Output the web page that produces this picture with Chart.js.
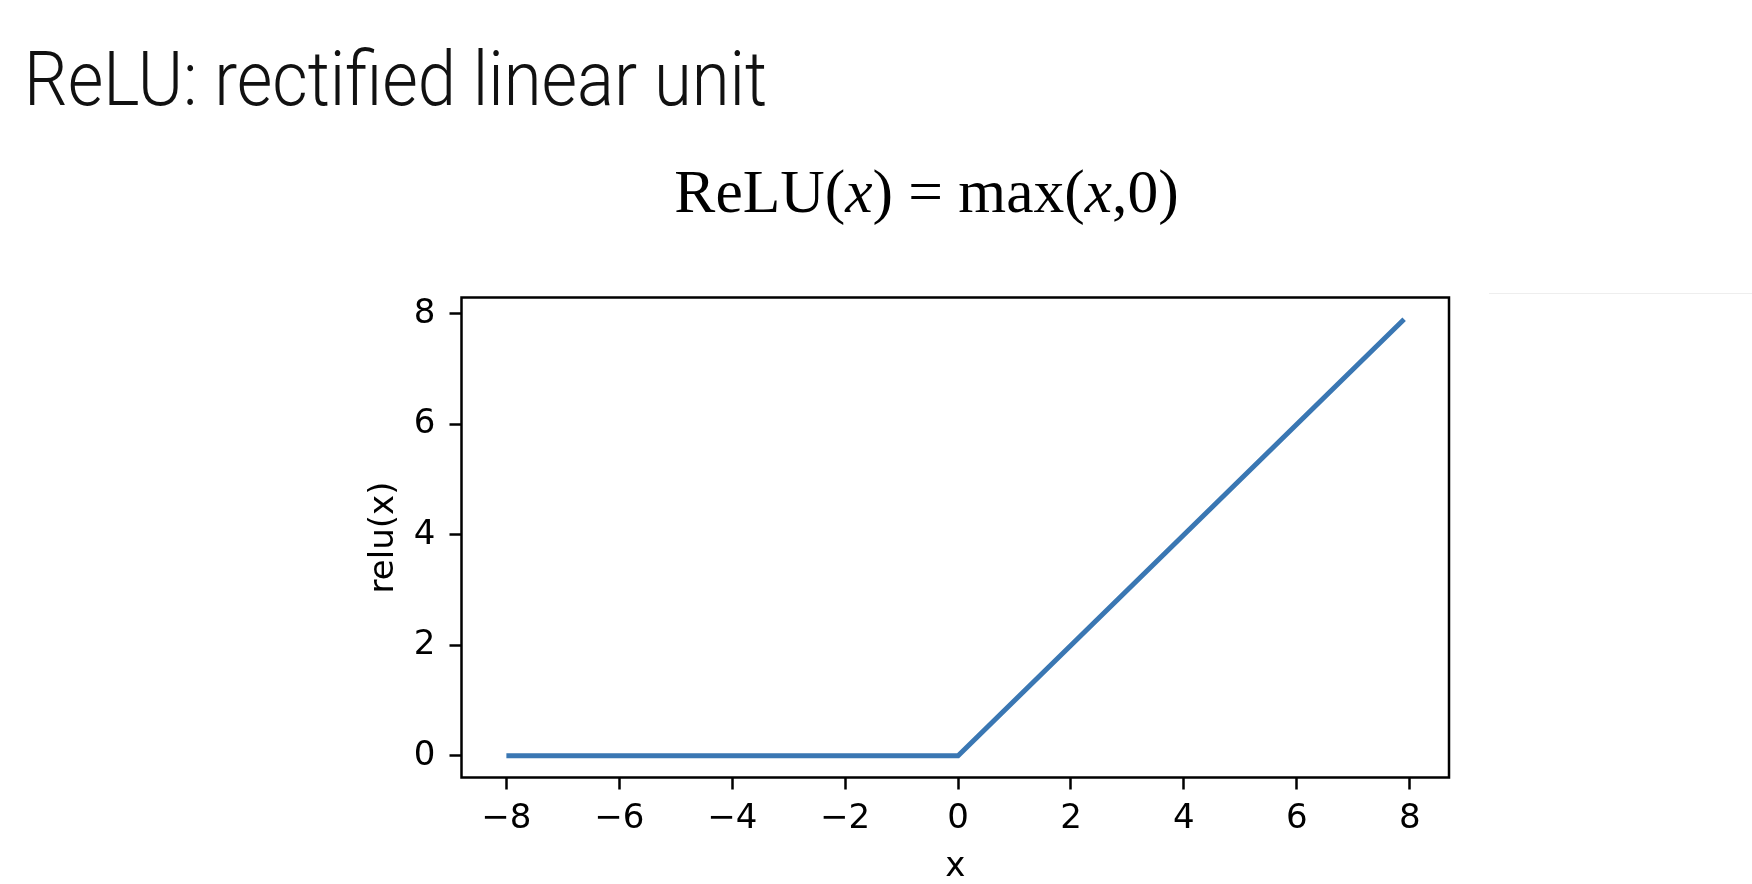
<!DOCTYPE html>
<html>
<head>
<meta charset="utf-8">
<script src="https://cdn.jsdelivr.net/npm/chart.js"></script>
<style>
  html, body { margin: 0; padding: 0; background: #fff; }
  body { width: 1752px; height: 884px; position: relative; overflow: hidden; }
  #title {
    position: absolute; left: 24px; top: 41px;
    font-family: Roboto, "Open Sans", sans-serif; font-weight: 300;
    font-size: 76px; color: #111; white-space: nowrap; line-height: 1;
    transform: scaleX(0.905); transform-origin: 0 0;
  }
  #formula {
    position: absolute; left: 0; width: 1853px; top: 161px; text-align: center;
    font-family: "Liberation Serif", "DejaVu Serif", serif; font-size: 61.5px;
    color: #000; white-space: nowrap; line-height: 1;
  }
  #formula i { font-style: italic; }
  #rule { position: absolute; left: 1489px; top: 293px; width: 263px; height: 1px; background: #eee; }
  #chart { position: absolute; left: 0; top: 0; }
</style>
</head>
<body>
<div id="title">ReLU: rectified linear unit</div>
<div id="formula">ReLU(<i>x</i>) = max(<i>x</i>,0)</div>
<div id="rule"></div>
<canvas id="chart" width="1752" height="884"></canvas>
<script>
// data
const xValues = [-8, 0, 7.9];
const reluValues = [0, 0, 7.9];
const xTicks = [-8, -6, -4, -2, 0, 2, 4, 6, 8];
const yTicks = [0, 2, 4, 6, 8];

const points = xValues.map((x, i) => ({ x: x, y: reluValues[i] }));

const fmt = (v) => (v < 0 ? '\u2212' + Math.abs(v) : String(v));
const tickFont = { family: 'DejaVu Sans', size: 34 };

// matplotlib style box round the axes
const frame = {
  id: 'frame',
  afterDraw(chart) {
    const a = chart.chartArea;
    const ctx = chart.ctx;
    ctx.save();
    ctx.strokeStyle = '#000';
    ctx.lineWidth = 2.5;
    ctx.strokeRect(a.left, a.top, a.right - a.left, a.bottom - a.top);
    ctx.restore();
  }
};

new Chart(document.getElementById('chart'), {
  type: 'line',
  data: {
    datasets: [{
      label: 'relu',
      data: points,
      borderColor: '#3a77b3',
      borderWidth: 5,
      pointRadius: 0,
      tension: 0,
      fill: false
    }]
  },
  options: {
    responsive: false,
    animation: false,
    layout: { padding: { left: 300, right: 303, top: 297.5, bottom: 0 } },
    plugins: { legend: { display: false }, tooltip: { enabled: false } },
    scales: {
      x: {
        type: 'linear',
        min: -8.795,
        max: 8.695,
        afterBuildTicks: (s) => { s.ticks = xTicks.map((v) => ({ value: v })); },
        afterFit: (s) => { s.height = 106.5; },
        border: { display: false },
        grid: { drawOnChartArea: false, drawTicks: true, tickLength: 12, tickColor: '#000', tickWidth: 2.5 },
        ticks: { color: '#000', font: tickFont, padding: 9, maxRotation: 0, callback: fmt },
        title: { display: true, text: 'x', color: '#000', font: { family: 'DejaVu Sans', size: 34, lineHeight: 1.2 }, padding: { top: 0, bottom: -4 } }
      },
      y: {
        type: 'linear',
        min: -0.395,
        max: 8.295,
        afterBuildTicks: (s) => { s.ticks = yTicks.map((v) => ({ value: v })); },
        afterFit: (s) => { s.width = 161.5; },
        border: { display: false },
        grid: { drawOnChartArea: false, drawTicks: true, tickLength: 12, tickColor: '#000', tickWidth: 2.5 },
        ticks: { color: '#000', font: tickFont, padding: 14, callback: fmt },
        title: { display: true, text: 'relu(x)', color: '#000', font: { family: 'DejaVu Sans', size: 34, lineHeight: 1.2 }, padding: { top: 64, bottom: 0 } }
      }
    }
  },
  plugins: [frame]
});
</script>
</body>
</html>
